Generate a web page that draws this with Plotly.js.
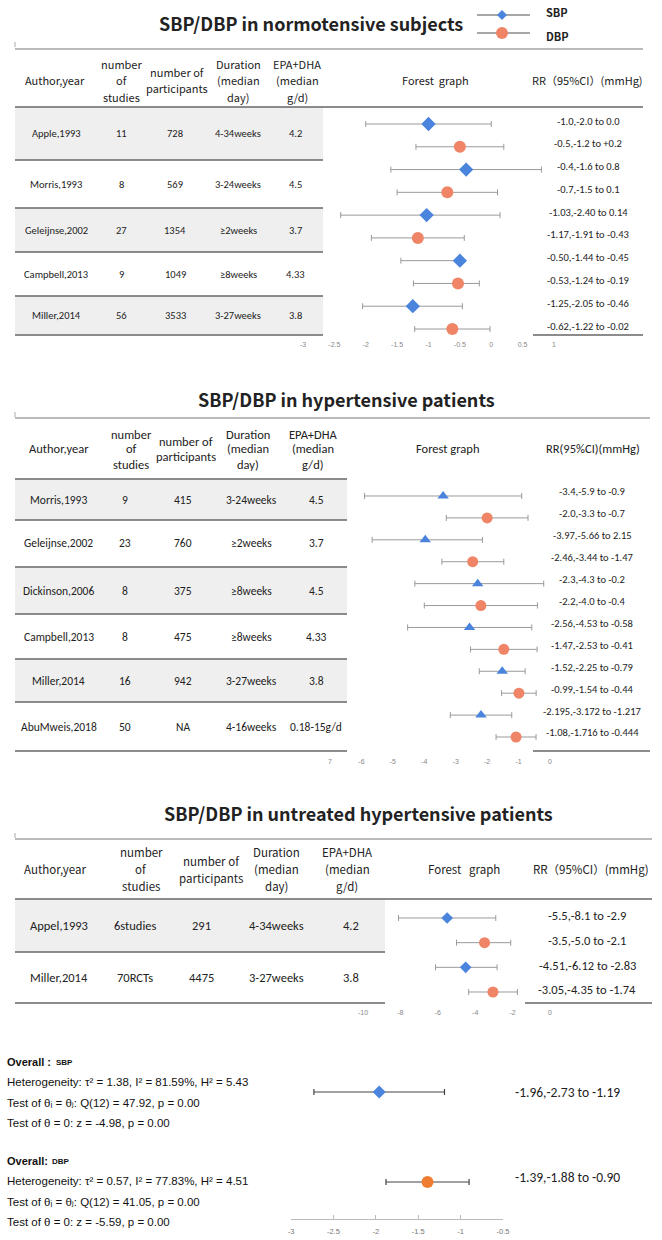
<!DOCTYPE html>
<html><head><meta charset="utf-8">
<script src="https://cdn.plot.ly/plotly-3.0.1.min.js"></script>
<style>html,body{margin:0;padding:0;background:#fff}</style>
</head><body><div id="chart" style="width:662px;height:1240px"></div>
<script>
// ---------- Panel 1: normotensive subjects ----------
const p1Title = "SBP/DBP in normotensive subjects";
const p1Header = [["Author,year"],["number","of","studies"],["number of","participants"],["Duration","(median","day)"],["EPA+DHA","(median","g/d)"],["Forest  graph"],["RR（95%CI）(mmHg)"]];
const p1Studies = ["Apple,1993","Morris,1993","Geleijnse,2002","Campbell,2013","Miller,2014"];
const p1NStudies = ["11","8","27","9","56"];
const p1NPart = ["728","569","1354","1049","3533"];
const p1Duration = ["4-34weeks","3-24weeks","≥2weeks","≥8weeks","3-27weeks"];
const p1Dose = ["4.2","4.5","3.7","4.33","3.8"];
const p1SbpEst = [-1.0,-0.4,-1.03,-0.50,-1.25];
const p1SbpLo  = [-2.0,-1.6,-2.40,-1.44,-2.05];
const p1SbpHi  = [0.0,0.8,0.14,-0.45,-0.46];
const p1DbpEst = [-0.5,-0.7,-1.17,-0.53,-0.62];
const p1DbpLo  = [-1.2,-1.5,-1.91,-1.24,-1.22];
const p1DbpHi  = [0.2,0.1,-0.43,-0.19,-0.02];
const p1SbpLabels = ["-1.0,-2.0 to 0.0","-0.4,-1.6 to 0.8","-1.03,-2.40 to 0.14","-0.50,-1.44 to -0.45","-1.25,-2.05 to -0.46"];
const p1DbpLabels = ["-0.5,-1.2 to +0.2","-0.7,-1.5 to 0.1","-1.17,-1.91 to -0.43","-0.53,-1.24 to -0.19","-0.62,-1.22 to -0.02"];
const p1TickVals = [-3,-2.5,-2,-1.5,-1,-0.5,0,0.5,1];
const p1TickText = ["-3","-2.5","-2","-1.5","-1","-0.5","0","0.5","1"];

// ---------- Panel 2: hypertensive patients ----------
const p2Title = "SBP/DBP in hypertensive patients";
const p2Header = [["Author,year"],["number","of","studies"],["number of","participants"],["Duration","(median","day)"],["EPA+DHA","(median","g/d)"],["Forest graph"],["RR(95%CI)(mmHg)"]];
const p2Studies = ["Morris,1993","Geleijnse,2002","Dickinson,2006","Campbell,2013","Miller,2014","AbuMweis,2018"];
const p2NStudies = ["9","23","8","8","16","50"];
const p2NPart = ["415","760","375","475","942","NA"];
const p2Duration = ["3-24weeks","≥2weeks","≥8weeks","≥8weeks","3-27weeks","4-16weeks"];
const p2Dose = ["4.5","3.7","4.5","4.33","3.8","0.18-15g/d"];
const p2SbpEst = [-3.4,-3.97,-2.3,-2.56,-1.52,-2.195];
const p2SbpLo  = [-5.9,-5.66,-4.3,-4.53,-2.25,-3.172];
const p2SbpHi  = [-0.9,-2.15,-0.2,-0.58,-0.79,-1.217];
const p2DbpEst = [-2.0,-2.46,-2.2,-1.47,-0.99,-1.08];
const p2DbpLo  = [-3.3,-3.44,-4.0,-2.53,-1.54,-1.716];
const p2DbpHi  = [-0.7,-1.47,-0.4,-0.41,-0.44,-0.444];
const p2SbpLabels = ["-3.4,-5.9 to -0.9","-3.97,-5.66 to 2.15","-2.3,-4.3 to -0.2","-2.56,-4.53 to -0.58","-1.52,-2.25 to -0.79","-2.195,-3.172 to -1.217"];
const p2DbpLabels = ["-2.0,-3.3 to -0.7","-2.46,-3.44 to -1.47","-2.2,-4.0 to -0.4","-1.47,-2.53 to -0.41","-0.99,-1.54 to -0.44","-1.08,-1.716 to -0.444"];
const p2TickVals = [-7,-6,-5,-4,-3,-2,-1,0];
const p2TickText = ["7","-6","-5","-4","-3","-2","-1","0"];

// ---------- Panel 3: untreated hypertensive patients ----------
const p3Title = "SBP/DBP in untreated hypertensive patients";
const p3Header = [["Author,year"],["number","of","studies"],["number of","participants"],["Duration","(median","day)"],["EPA+DHA","(median","g/d)"],["Forest   graph"],["RR（95%CI）(mmHg)"]];
const p3Studies = ["Appel,1993","Miller,2014"];
const p3NStudies = ["6studies","70RCTs"];
const p3NPart = ["291","4475"];
const p3Duration = ["4-34weeks","3-27weeks"];
const p3Dose = ["4.2","3.8"];
const p3SbpEst = [-5.5,-4.51];
const p3SbpLo  = [-8.1,-6.12];
const p3SbpHi  = [-2.9,-2.83];
const p3DbpEst = [-3.5,-3.05];
const p3DbpLo  = [-5.0,-4.35];
const p3DbpHi  = [-2.1,-1.74];
const p3SbpLabels = ["-5.5,-8.1 to -2.9","-4.51,-6.12 to -2.83"];
const p3DbpLabels = ["-3.5,-5.0 to -2.1","-3.05,-4.35 to -1.74"];
const p3TickVals = [-10,-8,-6,-4,-2,0];
const p3TickText = ["-10","-8","-6","-4","-2","0"];

// ---------- Overall ----------
const ovNames = ["SBP","DBP"];
const ovEst = [-1.96,-1.39];
const ovLo  = [-2.73,-1.88];
const ovHi  = [-1.19,-0.90];
const ovLabels = ["-1.96,-2.73 to -1.19","-1.39,-1.88 to -0.90"];
const ovStats = [
  ["Heterogeneity: τ² = 1.38, I² = 81.59%, H² = 5.43","Test of θᵢ = θⱼ: Q(12) = 47.92, p = 0.00","Test of θ = 0: z = -4.98, p = 0.00"],
  ["Heterogeneity: τ² = 0.57, I² = 77.83%, H² = 4.51","Test of θᵢ = θⱼ: Q(12) = 41.05, p = 0.00","Test of θ = 0: z = -5.59, p = 0.00"]
];
const ovTickVals = [-3,-2.5,-2,-1.5,-1,-0.5];
const ovTickText = ["-3","-2.5","-2","-1.5","-1","-0.5"];
const legendNames = ["SBP","DBP"];

// ---------- styling ----------
const W = 662, H = 1240;
const PX = v => v / W, PY = v => 1 - v / H;
const CAL = "Carlito, Calibri, Lato, 'Open Sans', sans-serif";
const YH = "'Microsoft YaHei', 'Noto Sans CJK SC', sans-serif";
const AR = "Arial, 'Liberation Sans', 'DejaVu Sans', sans-serif";
const BLUE = "#4a84dc", SALMON = "#ef8466", ORANGE = "#ee7d31";
const BAR = "#9a9a9a", RULE = "#666666", FILL = "#efefef";

function ciTrace(est, lo, hi, xa, ya, off, step, symbol, color, size, barColor, thick) {
  return {
    type: "scatter", mode: "markers", x: est, y: est.map((_, i) => step * i + off),
    xaxis: xa, yaxis: ya, cliponaxis: false, hoverinfo: "skip", showlegend: false,
    marker: { symbol: symbol, color: color, size: size, line: { width: 0 } },
    error_x: { type: "data", symmetric: false,
      array: hi.map((h, i) => h - est[i]), arrayminus: lo.map((l, i) => est[i] - l),
      color: barColor, thickness: thick, width: 3 }
  };
}

const traces = [
  ciTrace(p1SbpEst, p1SbpLo, p1SbpHi, "x", "y", 0, 2, "diamond", BLUE, 11, BAR, 1),
  ciTrace(p1DbpEst, p1DbpLo, p1DbpHi, "x", "y", 1, 2, "circle", SALMON, 12, BAR, 1),
  ciTrace(p2SbpEst, p2SbpLo, p2SbpHi, "x2", "y2", 0, 2, "triangle-up", BLUE, 10, BAR, 1),
  ciTrace(p2DbpEst, p2DbpLo, p2DbpHi, "x2", "y2", 1, 2, "circle", SALMON, 11, BAR, 1),
  ciTrace(p3SbpEst, p3SbpLo, p3SbpHi, "x3", "y3", 0, 2, "diamond", BLUE, 9, BAR, 1),
  ciTrace(p3DbpEst, p3DbpLo, p3DbpHi, "x3", "y3", 1, 2, "circle", SALMON, 11, BAR, 1),
  ciTrace([ovEst[0]], [ovLo[0]], [ovHi[0]], "x4", "y4", 0, 1, "diamond", BLUE, 10, "#444", 1.2),
  ciTrace([ovEst[1]], [ovLo[1]], [ovHi[1]], "x4", "y4", 1, 1, "circle", ORANGE, 12, "#444", 1.2)
];

const ann = [], shapes = [];
function txt(x, y, text, size, family, o) {
  o = o || {};
  ann.push({ xref: "paper", yref: "paper", x: PX(x), y: PY(y), text: text, showarrow: false,
    xanchor: o.xa || "center", yanchor: "middle", borderpad: 0,
    font: { size: size, family: family, color: o.color || "#222", weight: o.weight || "normal" } });
}
function hline(x0, x1, y, color, w) {
  shapes.push({ type: "line", xref: "paper", yref: "paper", x0: PX(x0), x1: PX(x1), y0: PY(y), y1: PY(y),
    line: { color: color || RULE, width: w || 1.5 } });
}
function vline(x, y0, y1, color, w) {
  shapes.push({ type: "line", xref: "paper", yref: "paper", x0: PX(x), x1: PX(x), y0: PY(y0), y1: PY(y1),
    line: { color: color || "#aaa", width: w || 1 } });
}
function fill(x0, x1, y0, y1) {
  shapes.push({ type: "rect", xref: "paper", yref: "paper", x0: PX(x0), x1: PX(x1), y0: PY(y0), y1: PY(y1),
    fillcolor: FILL, line: { width: 0 }, layer: "below" });
}
function header(cols, xs, cy, spacing, size, family) {
  cols.forEach((lines, c) => {
    const n = lines.length;
    lines.forEach((ln, k) => txt(xs[c], cy + (k - (n - 1) / 2) * spacing, ln, size, family));
  });
}
function rows(cols, xs, ys, size, family) {
  cols.forEach((col, c) => col.forEach((v, r) => txt(xs[c], ys[r], v, size, family)));
}
function ciLabels(labels, ya, off, x, size, shift) {
  labels.forEach((t, i) => ann.push({ xref: "paper", yref: ya, x: PX(x), y: 2 * i + off, yshift: shift,
    text: t, showarrow: false, xanchor: "center", yanchor: "middle", font: { size: size, family: CAL, color: "#222" } }));
}

// ----- Panel 1 layout -----
txt(311, 23, "<b>" + p1Title + "</b>", 18, YH);
hline(477, 530, 15, "#8a8a8a", 1.5);
hline(477, 530, 33, "#8a8a8a", 1.5);
shapes.push({ type: "path", xref: "paper", yref: "paper",
  path: `M ${PX(502)} ${PY(10)} L ${PX(507)} ${PY(15)} L ${PX(502)} ${PY(20)} L ${PX(497)} ${PY(15)} Z`,
  fillcolor: BLUE, line: { width: 0 } });
shapes.push({ type: "circle", xref: "paper", yref: "paper", x0: PX(496), x1: PX(508), y0: PY(27), y1: PY(39),
  fillcolor: SALMON, line: { width: 0 } });
txt(545, 12, "<b>" + legendNames[0] + "</b>", 11, YH, { xa: "left" });
txt(545, 36, "<b>" + legendNames[1] + "</b>", 11, YH, { xa: "left" });

const p1Rows = [107, 160, 208, 252, 296, 335];
fill(15, 323, p1Rows[0], p1Rows[1]); fill(15, 323, p1Rows[2], p1Rows[3]); fill(15, 323, p1Rows[4], p1Rows[5]);
vline(15, 42, 47);
hline(15, 643, 49, "#777", 1.2);
hline(15, 643, 107, RULE, 1.5);
[160, 208, 252, 296, 335].forEach(y => hline(15, 323, y, RULE, 1.5));
hline(533, 643, 335, RULE, 1.5);
header(p1Header, [55, 121, 177, 238, 297, 435, 587], 80, 16.5, 11, YH);
const p1Mid = p1Rows.slice(0, -1).map((y, i) => (y + p1Rows[i + 1]) / 2);
rows([p1Studies, p1NStudies, p1NPart, p1Duration, p1Dose], [56, 121, 175, 238, 295], p1Mid, 10.5, CAL);
ciLabels(p1SbpLabels, "y", 0, 588, 10.5, 3);
ciLabels(p1DbpLabels, "y", 1, 588, 10.5, 3);

// ----- Panel 2 layout -----
txt(346, 399, "<b>" + p2Title + "</b>", 18, YH);
const p2Rows = [479, 520, 567, 614, 659, 702, 751];
fill(15, 347, p2Rows[0], p2Rows[1]); fill(15, 347, p2Rows[2], p2Rows[3]); fill(15, 347, p2Rows[4], p2Rows[5]);
vline(15, 412, 417);
hline(15, 650, 418, "#777", 1.2);
[479, 520, 567, 614, 659, 702, 751].forEach(y => hline(15, 347, y, RULE, 1.5));
hline(533, 650, 751, RULE, 1.5);
header(p2Header, [59, 131, 186, 248, 313, 447, 593], 449, 15, 12.5, CAL);
const p2Mid = p2Rows.slice(0, -1).map((y, i) => (y + p2Rows[i + 1]) / 2);
rows([p2Studies, p2NStudies, p2NPart, p2Duration, p2Dose], [59, 125, 183, 251, 316], p2Mid, 11.5, CAL);
ciLabels(p2SbpLabels, "y2", 0, 592, 10.5, 4);
ciLabels(p2DbpLabels, "y2", 1, 592, 10.5, 4);

// ----- Panel 3 layout -----
txt(358, 813, "<b>" + p3Title + "</b>", 18, YH);
const p3Rows = [899, 952, 1003];
fill(15, 385, p3Rows[0], p3Rows[1]);
vline(15, 833, 838);
hline(15, 652, 839, "#777", 1.2);
hline(15, 652, 899, RULE, 1.5);
[952, 1003].forEach(y => hline(15, 385, y, RULE, 1.5));
hline(525, 652, 1003, RULE, 1.5);
header(p3Header, [55, 141, 211, 276, 347, 464, 591], 869, 17, 11.5, YH);
const p3Mid = p3Rows.slice(0, -1).map((y, i) => (y + p3Rows[i + 1]) / 2);
rows([p3Studies, p3NStudies, p3NPart, p3Duration, p3Dose], [59, 135, 201, 276, 351], p3Mid, 12.5, CAL);
ciLabels(p3SbpLabels, "y3", 0, 587, 12.5, 2);
ciLabels(p3DbpLabels, "y3", 1, 587, 12.5, 2);

// ----- Overall -----
const ovTop = [1062, 1161];
ovNames.forEach((nm, k) => {
  txt(6, ovTop[k], "<b>Overall" + (k === 0 ? " :" : ":") + "</b>", 11, AR, { xa: "left", color: "#111" });
  txt(k === 0 ? 55 : 51, ovTop[k], "<b>" + nm + "</b>", 8, AR, { xa: "left", color: "#111" });
  ovStats[k].forEach((s, j) => txt(6, ovTop[k] + 20.3 * (j + 1), s, 11.5, AR, { xa: "left", color: "#111" }));
});
ovLabels.forEach((t, i) => ann.push({ xref: "paper", yref: "y4", x: PX(567), y: i, yshift: i === 0 ? 0 : 5,
  text: t, showarrow: false, xanchor: "center", yanchor: "middle", font: { size: 13.5, family: CAL, color: "#222" } }));

// ----- axes -----
function ydom(top, bottom) { return [PY(bottom), PY(top)]; }
function xAx(x0, x1, range, tv, tt, pos, extra) {
  return Object.assign({ domain: [PX(x0), PX(x1)], range: range, anchor: "free", position: PY(pos),
    showgrid: false, zeroline: false, showline: false, ticks: "", tickvals: tv, ticktext: tt,
    tickfont: { size: 7, color: "#888", family: AR }, fixedrange: true }, extra || {});
}
function yAx(top, bottom, range) {
  return { domain: ydom(top, bottom), range: range, visible: false, fixedrange: true };
}
const u1 = (329 - 124) / 9, u2 = (737 - 496) / 11, u3 = (992 - 918) / 3;

const layout = {
  width: W, height: H, margin: { l: 0, r: 0, t: 0, b: 0 },
  paper_bgcolor: "#ffffff", plot_bgcolor: "rgba(0,0,0,0)", showlegend: false,
  xaxis: xAx(303, 554, [-3, 1], p1TickVals, p1TickText, 338.5),
  yaxis: yAx(124 - u1 / 2, 329 + u1 / 2, [9.5, -0.5]),
  xaxis2: xAx(330, 550, [-7, 0], p2TickVals, p2TickText, 756),
  yaxis2: yAx(496 - u2 / 2, 737 + u2 / 2, [11.5, -0.5]),
  xaxis3: xAx(363, 550, [-10, 0], p3TickVals, p3TickText, 1007),
  yaxis3: yAx(918 - u3 / 2, 992 + u3 / 2, [3.5, -0.5]),
  xaxis4: Object.assign(xAx(291, 503, [-3, -0.5], ovTickVals, ovTickText, 1219),
    { anchor: "y4", showline: true, linecolor: "#bbb", linewidth: 1, ticks: "inside", ticklen: 4, tickcolor: "#bbb",
      ticklabelstandoff: 5, tickfont: { size: 7.5, color: "#777", family: AR } }),
  yaxis4: yAx(1047, 1219, [1 + 37 / 90, -0.5]),
  shapes: shapes, annotations: ann
};
delete layout.xaxis4.position;

Plotly.newPlot("chart", traces, layout, { staticPlot: true, displayModeBar: false });
</script></body></html>
